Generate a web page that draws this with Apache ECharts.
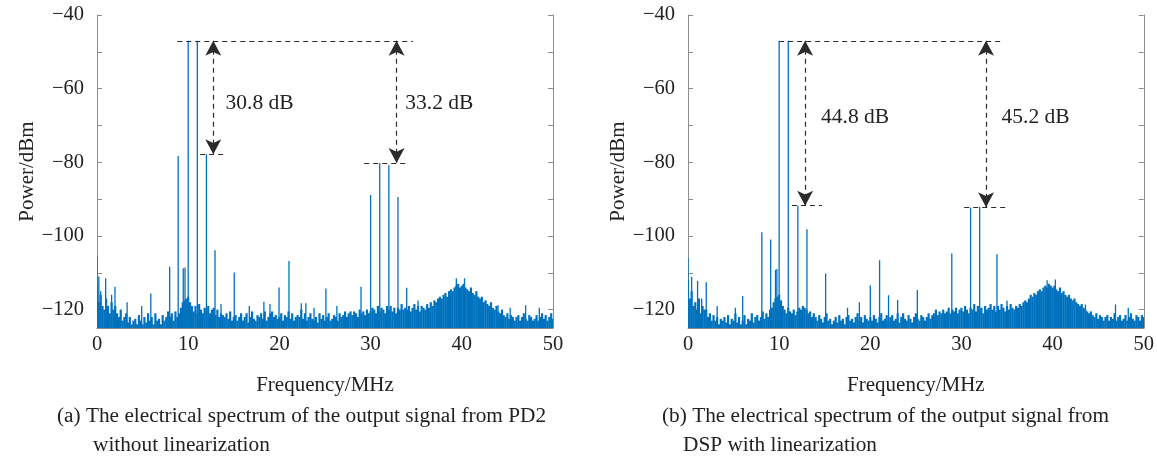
<!DOCTYPE html>
<html><head><meta charset="utf-8">
<script src="https://cdn.jsdelivr.net/npm/echarts@6/dist/echarts.min.js"></script>
<style>html,body{margin:0;padding:0;background:#fff}#c{width:1157px;height:459px}</style>
</head><body><div id="c"></div>
<script>
// ---------------- data ----------------
const noiseStep = 0.2; // MHz between noise samples (0 .. 50)
const leftNoise = [
-113,-118,-116,-119,-120,-117,-119,-121,-118,-120,
-119,-121,-122,-120,-123,-122,-121,-123.5,-122,-124,
-123,-122.5,-124,-121.5,-123,-124,-122,-123.5,-121,-123,
-122,-124,-121,-123,-122.5,-124,-121.5,-123,-122,-120.5,
-122,-121,-123,-120.5,-122,-121,-119.5,-118,-117.5,-117,
-116.5,-118,-119,-120.5,-119,-121,-118.5,-120,-121,-119.5,
-120,-119,-121,-120,-119.5,-121.5,-120,-122,-121,-121.5,
-122,-121,-122.5,-120.5,-123,-122,-121.5,-123,-122,-121,
-123,-122,-121,-123.5,-122,-120.5,-122.5,-123,-121.5,-122,
-121,-122.5,-120.5,-123,-122,-121,-120.5,-122,-121.5,-122.5,
-122,-121,-123,-121.5,-122,-120.5,-122.5,-121,-123,-122,
-121.5,-122,-120,-122.5,-121,-123,-122,-121,-122.5,-123,
-122,-123.5,-121,-122.5,-121.5,-123,-122,-121,-123,-122.5,
-121.5,-122,-123,-121,-122,-121.5,-120.5,-122,-121,-120.5,
-121.5,-120.5,-121,-122,-120,-121,-120.5,-121.5,-120,-121,
-120.5,-119.5,-120,-121,-119,-120.5,-119.5,-120,-121,-119,
-120,-119,-120.5,-119.5,-121,-119.5,-120,-118.5,-120,-119.5,
-120,-119,-120.5,-119.5,-118.5,-120,-119,-120.5,-119,-119.5,
-120,-118.5,-119.5,-118,-119,-117.5,-118,-117,-116.5,-117,
-116,-115.5,-116.5,-115,-114.5,-115,-114,-113.5,-113,-114,
-113.5,-113,-114,-114.5,-115,-114,-115.5,-116,-115,-116.5,
-117,-116.5,-118,-117.5,-118.5,-119,-118,-119.5,-120,-119,
-120.5,-121,-120,-121.5,-122,-121,-122.5,-121.5,-122,-123,
-122,-121.5,-123,-122,-121,-122.5,-123,-121.5,-122,-123,
-122.5,-121.5,-123,-122,-121,-122.5,-121.5,-123,-122,-121,-122.5
];
const rightNoise = [
-112,-117,-115,-119,-118,-120,-117,-121,-119,-120,
-120,-122,-121,-123,-121.5,-123,-122,-124,-122.5,-123,
-122,-123.5,-121.5,-124,-122.5,-123,-121,-123.5,-122,-124,
-123,-121.5,-124,-122.5,-123,-121,-123.5,-122,-121.5,-123,
-122,-120.5,-122.5,-121,-122,-120,-119.5,-118,-117,-116.5,
-116,-117.5,-119,-120,-121,-119.5,-120.5,-121,-120,-121.5,
-120.5,-119.5,-120,-119,-119.5,-120,-121,-120.5,-122,-121,
-122,-123,-121.5,-122.5,-123.5,-122,-121,-123,-122.5,-124,
-123,-122,-123.5,-121.5,-123,-122.5,-124,-122,-121.5,-123,
-122.5,-123.5,-122,-121,-123,-122,-123.5,-121.5,-122.5,-123,
-122,-123,-121.5,-122.5,-123.5,-122,-121,-123,-122.5,-121.5,
-123,-122,-121.5,-123,-122.5,-121,-123.5,-122,-121,-122.5,
-123,-121.5,-122.5,-123.5,-122,-121,-122.5,-123,-121.5,-122,
-123,-122,-121,-122.5,-121.5,-121,-120,-121.5,-120.5,-121,
-120,-121,-120.5,-119.5,-121,-120,-120.5,-119.5,-121,-120,
-119.5,-120.5,-119,-120,-121,-119.5,-120,-118.5,-120.5,-119,
-120,-119.5,-121,-119,-120,-119.5,-118.5,-120,-119,-120.5,
-119,-120,-118.5,-119.5,-120.5,-119,-120,-118.5,-119.5,-120,
-119,-119.5,-118.5,-119,-118,-117.5,-118,-117,-116,-116.5,
-115.5,-116,-115,-114.5,-115,-114,-113.5,-114,-113,-113.5,
-114,-113.5,-114.5,-115,-114,-115.5,-115,-116,-116.5,-116,
-117,-117.5,-117,-118,-118.5,-119,-118.5,-119.5,-120,-120.5,
-121,-120.5,-121.5,-122,-121,-122.5,-121.5,-122,-123,-122,
-121.5,-123,-122,-122.5,-121,-123,-122,-121.5,-123,-122.5,
-121.5,-123,-122,-121,-122.5,-123,-121.5,-122,-123,-121.5,-122
];
// discrete spectral lines (MHz, dBm)
const leftToneFreq  = [0, 0.2, 0.4, 0.95, 1.6, 1.97, 3.3, 4.9, 5.9, 7.97, 8.9, 9.46, 9.65, 10, 11, 12, 12.94, 13.6, 15.05, 16.7, 18.3, 18.97, 19.96, 21.05, 22.4, 22.9, 23.8, 25.1, 26.3, 28.95, 30, 31, 32, 33, 33.96, 35.2, 39.4, 40.3, 43.97, 45.3, 47, 48.5];
const leftToneLevel = [-105.5, -111, -115, -111.5, -116, -113.8, -118, -119, -115.6, -108.4, -78.3, -108.8, -108.6, -47, -47, -77.8, -103.9, -118.5, -109.9, -119, -117.9, -118.5, -114, -106.8, -118.3, -118.3, -119.5, -114.3, -119, -113.8, -88.9, -80.2, -80.8, -89.4, -114.1, -117.5, -111.5, -111.5, -118.8, -119.5, -118.8, -119.5];
const rightToneFreq  = [0, 0.4, 1.05, 1.5, 2.0, 3.2, 5.2, 6.0, 8.1, 9.07, 9.6, 9.75, 10, 11, 12.05, 13.05, 15.1, 17.5, 18.8, 20.0, 21.02, 22.0, 23.0, 25.16, 28.94, 31, 32, 33.9, 35, 39.4, 40.3, 43.6, 46.9, 48.3];
const rightToneLevel = [-106, -111.1, -112.2, -117, -112.6, -119, -119.5, -116.3, -99, -101, -109.2, -109, -47, -47, -91.8, -98.2, -110.2, -119.5, -118, -113.4, -106.6, -116.1, -117.4, -114.7, -104.8, -92.3, -92.1, -105, -117.5, -112, -111.8, -118.6, -118.6, -119.5];
// annotation: reference level, suppression levels, and labels
const leftCarrier = -47,  leftImd = [-77.8, -80.2],  leftGapText = ['30.8 dB', '33.2 dB'];
const rightCarrier = -47, rightImd = [-91.8, -92.2], rightGapText = ['44.8 dB', '45.2 dB'];
const leftRefSpan = [8.8, 34.65],  leftLowSpans = [[11.3, 14.0], [29.3, 34.1]],  leftArrowX = [12.75, 32.85], leftLabelPos = [[14.1, -64], [33.8, -64]];
const rightRefSpan = [10.0, 34.6], rightLowSpans = [[11.4, 14.7], [30.3, 35.2]], rightArrowX = [12.85, 32.7], rightLabelPos = [[14.6, -67.7], [34.4, -67.7]];
const yTickValues = [-120, -110, -100, -90, -80, -70, -60, -50, -40];
const yLabelValues = [-120, -100, -80, -60, -40];
const xLabelValues = [0, 10, 20, 30, 40, 50];
const xTitle = 'Frequency/MHz', yTitle = 'Power/dBm';
const captions = [
  ['(a) The electrical spectrum of the output signal from PD2', 'without linearization'],
  ['(b) The electrical spectrum of the output signal from', 'DSP with linearization']
];
// ---------------- chart ----------------
const Y_MIN = -125, Y_MAX = -40;
const BLUE = '#0072BD', TXT = '#222222', AX = '#8c8c8c', ANN = '#2b2b2b';
const FONT = '"Liberation Serif","Times New Roman",serif';
const chart = echarts.init(document.getElementById('c'), null, {renderer: 'canvas'});
function stem(width) {
  return function (params, api) {
    const x = api.value(0), y = api.value(1);
    const p0 = api.coord([x, Y_MIN]), p1 = api.coord([x, y]);
    return {type: 'line', shape: {x1: p0[0], y1: p0[1], x2: p1[0], y2: p1[1]},
      style: {stroke: BLUE, lineWidth: width}};
  };
}
const minus = v => String(v).replace('-', '\u2212');
function xAxis(g) {
  return {type: 'value', gridIndex: g, min: 0, max: 50, interval: 10,
    axisLine: {show: true, lineStyle: {color: AX, width: 1}},
    axisTick: {show: true, inside: true, length: 5, lineStyle: {color: AX}},
    axisLabel: {color: TXT, fontFamily: FONT, fontSize: 20.5, margin: 6},
    splitLine: {show: false},
    name: xTitle, nameLocation: 'middle', nameGap: 47,
    nameTextStyle: {color: TXT, fontFamily: FONT, fontSize: 21}};
}
function yAxis(g, right) {
  return {type: 'value', gridIndex: g, min: Y_MIN, max: Y_MAX, position: right ? 'right' : 'left',
    axisLine: {show: true, lineStyle: {color: AX, width: 1}},
    axisTick: {show: true, inside: true, length: 5, customValues: yTickValues, lineStyle: {color: AX}},
    axisLabel: {show: !right, customValues: yLabelValues, formatter: minus, color: TXT, fontFamily: FONT, fontSize: 20.5, margin: 13, padding: [5, 0, 0, 0]},
    splitLine: {show: false},
    name: right ? '' : yTitle, nameLocation: 'middle', nameGap: 55, nameRotate: 90,
    nameTextStyle: {color: TXT, fontFamily: FONT, fontSize: 21}};
}
function annotSeries(g, carrier, imd, refSpan, lowSpans, arrowX, labelPos, texts) {
  const dashed = {color: ANN, type: [5, 4], width: 1.2, opacity: 1};
  const lines = [
    [{coord: [refSpan[0], carrier]}, {coord: [refSpan[1], carrier]}],
    [{coord: [lowSpans[0][0], imd[0]]}, {coord: [lowSpans[0][1], imd[0]]}],
    [{coord: [lowSpans[1][0], imd[1]]}, {coord: [lowSpans[1][1], imd[1]]}],
    [{coord: [arrowX[0], carrier], symbol: 'arrow'}, {coord: [arrowX[0], imd[0]], symbol: 'arrow'}],
    [{coord: [arrowX[1], carrier], symbol: 'arrow'}, {coord: [arrowX[1], imd[1]], symbol: 'arrow'}]
  ];
  return {type: 'scatter', xAxisIndex: g, yAxisIndex: g * 2, z: 10, silent: true,
    symbolSize: 0, itemStyle: {opacity: 1},
    data: labelPos.map((p, i) => ({value: [p[0], p[1]], label: {formatter: texts[i]}})),
    label: {show: true, position: 'right', distance: 0, color: TXT, fontFamily: FONT, fontSize: 21.5, opacity: 1},
    markLine: {silent: true, symbol: ['none', 'none'], symbolSize: [12, 15], label: {show: false},
      lineStyle: dashed, itemStyle: {color: ANN, opacity: 1}, emphasis: {disabled: true}, animation: false,
      data: lines}};
}
function pts(freqs, levels) { return freqs.map((f, i) => [f, levels[i]]); }
function noisePts(arr) { return arr.map((v, i) => [+(i * noiseStep).toFixed(2), v]); }
const capFont = '21.3px ' + FONT;
const option = {
  animation: false,
  backgroundColor: '#fff',
  grid: [
    {left: 97, top: 15, width: 456, height: 313},
    {left: 688, top: 15, width: 459, height: 313}
  ],
  xAxis: [xAxis(0), xAxis(1)],
  yAxis: [yAxis(0, false), yAxis(0, true), yAxis(1, false), yAxis(1, true)],
  series: [
    {type: 'custom', xAxisIndex: 0, yAxisIndex: 0, renderItem: stem(2.2), data: noisePts(leftNoise), encode: {x: 0, y: 1}, silent: true, clip: true},
    {type: 'custom', xAxisIndex: 0, yAxisIndex: 0, renderItem: stem(1.3), data: pts(leftToneFreq, leftToneLevel), encode: {x: 0, y: 1}, silent: true, clip: true},
    {type: 'custom', xAxisIndex: 1, yAxisIndex: 2, renderItem: stem(2.2), data: noisePts(rightNoise), encode: {x: 0, y: 1}, silent: true, clip: true},
    {type: 'custom', xAxisIndex: 1, yAxisIndex: 2, renderItem: stem(1.3), data: pts(rightToneFreq, rightToneLevel), encode: {x: 0, y: 1}, silent: true, clip: true},
    annotSeries(0, leftCarrier, leftImd, leftRefSpan, leftLowSpans, leftArrowX, leftLabelPos, leftGapText),
    annotSeries(1, rightCarrier, rightImd, rightRefSpan, rightLowSpans, rightArrowX, rightLabelPos, rightGapText)
  ],
  graphic: [
    {type: 'text', left: 57, top: 406, style: {text: captions[0][0], fill: TXT, font: capFont}},
    {type: 'text', left: 93, top: 435, style: {text: captions[0][1], fill: TXT, font: capFont}},
    {type: 'text', left: 662, top: 406, style: {text: captions[1][0], fill: TXT, font: capFont}},
    {type: 'text', left: 683, top: 435, style: {text: captions[1][1], fill: TXT, font: capFont}}
  ]
};
chart.setOption(option);
</script></body></html>
